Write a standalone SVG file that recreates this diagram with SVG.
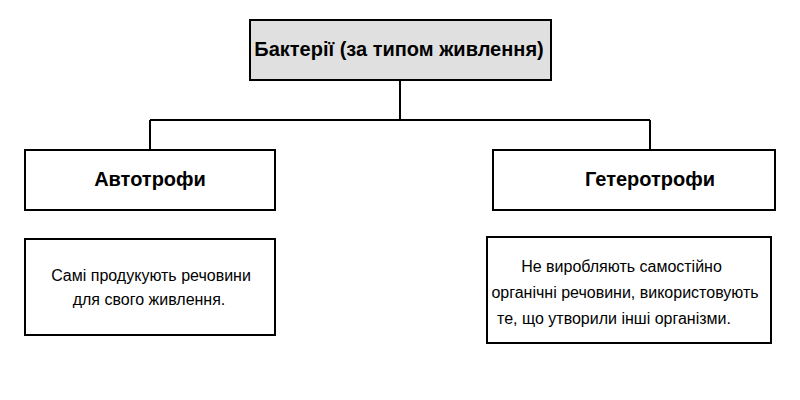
<svg xmlns="http://www.w3.org/2000/svg" width="800" height="400" viewBox="0 0 800 400">
<style>
.box{fill:#ffffff;stroke:#000000;stroke-width:2}
.root{fill:#e0e0e0;stroke:#000000;stroke-width:2}
.title{font-family:"Liberation Sans",Arial,sans-serif;font-size:20px;font-weight:bold;fill:#000000;text-anchor:middle}
.desc{font-family:"Liberation Sans",Arial,sans-serif;font-size:16px;fill:#000000;text-anchor:middle}
.conn{fill:none;stroke:#000000;stroke-width:2}
</style>
<rect width="800" height="400" fill="#ffffff"/>
<g id="connectors">
<path class="conn" d="M400,80 V120"/>
<path class="conn" d="M150,120 H650"/>
<path class="conn" d="M150,120 V150"/>
<path class="conn" d="M650,120 V150"/>
</g>
<g id="root">
<rect class="root" x="250" y="20" width="301" height="60"/>
<text class="title" x="399" y="56">Бактерії (за типом живлення)</text>
</g>
<g id="autotrophs">
<rect class="box" x="25" y="150" width="250" height="60"/>
<text class="title" x="150" y="186">Автотрофи</text>
</g>
<g id="heterotrophs">
<rect class="box" x="493" y="150" width="282" height="60"/>
<text class="title" x="650" y="186">Гетеротрофи</text>
</g>
<g id="autotrophs-desc">
<rect class="box" x="25" y="239" width="250" height="96"/>
<text class="desc" x="151" y="281">Самі продукують речовини</text>
<text class="desc" x="149" y="305">для свого живлення.</text>
</g>
<g id="heterotrophs-desc">
<rect class="box" x="487" y="237" width="284" height="106"/>
<text class="desc" x="621.5" y="272">Не виробляють самостійно</text>
<text class="desc" x="625" y="298">органічні речовини, використовують</text>
<text class="desc" x="614" y="324">те, що утворили інші організми.</text>
</g>
</svg>
